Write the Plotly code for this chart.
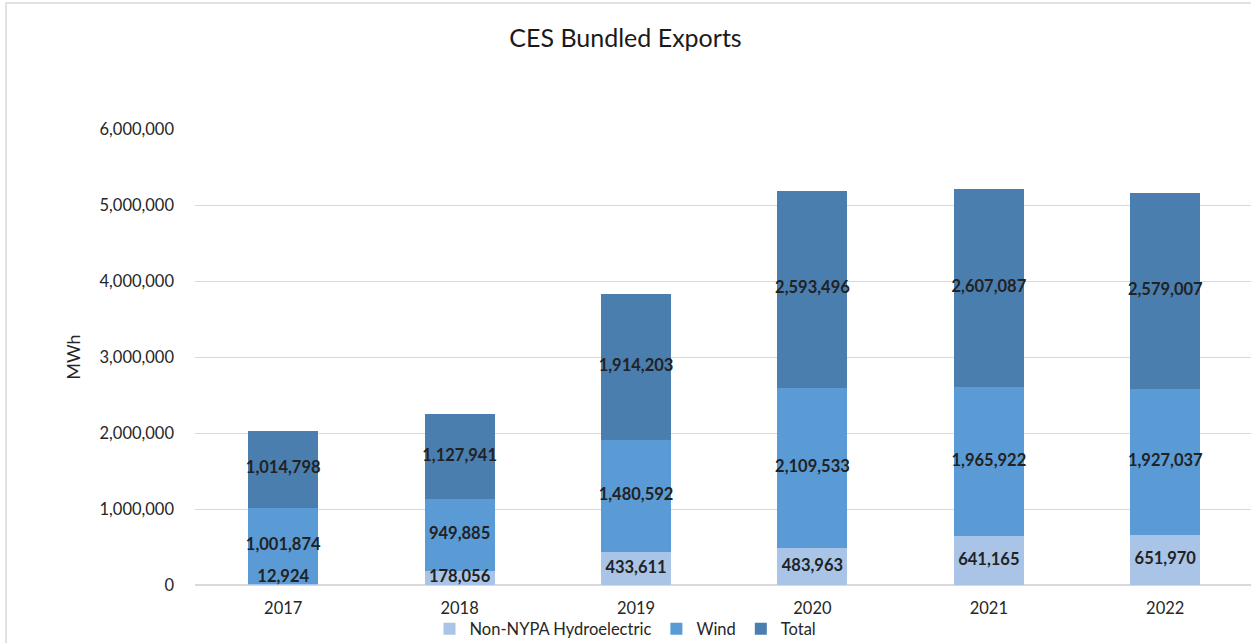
import plotly.graph_objects as go

years = ["2017", "2018", "2019", "2020", "2021", "2022"]
hydro = [12924, 178056, 433611, 483963, 641165, 651970]
wind = [1001874, 949885, 1480592, 2109533, 1965922, 1927037]
total = [1014798, 1127941, 1914203, 2593496, 2607087, 2579007]

series = [
    ("Non-NYPA Hydroelectric", hydro, "#a9c4e6"),
    ("Wind", wind, "#5b9bd5"),
    ("Total", total, "#4a7eaf"),
]

FONT = "Lato, 'Open Sans', sans-serif"

fig = go.Figure()
base = [0] * len(years)
label_x, label_y, label_t = [], [], []
for name, vals, color in series:
    fig.add_trace(go.Bar(
        x=years, y=vals, name=name, marker=dict(color=color, line=dict(width=0)),
        hoverinfo="skip",
    ))
    for i, v in enumerate(vals):
        label_x.append(years[i])
        # keep the label inside the plot area (as the original does for tiny segments)
        label_y.append(max(base[i] + v / 2, 90000))
        label_t.append(f"{v:,}")
        base[i] += v

fig.add_trace(go.Scatter(
    x=label_x, y=label_y, text=label_t, mode="text",
    textposition="middle center",
    textfont=dict(family=FONT, size=16.5, color="#222222", weight="bold"),
    showlegend=False, hoverinfo="skip", cliponaxis=False,
))

fig.update_layout(
    width=1251, height=643,
    barmode="stack", bargap=0.603,
    paper_bgcolor="white", plot_bgcolor="white",
    margin=dict(l=195, r=0, t=129, b=58),
    font=dict(family=FONT, size=16, color="#262626"),
    title=dict(text="CES Bundled Exports", x=0.5, xref="container", xanchor="center",
               y=1 - 38 / 643, yref="container", yanchor="middle",
               font=dict(size=25, color="#1a1a1a", family=FONT)),
    legend=dict(orientation="h", x=0.5, xref="container", xanchor="center",
                y=1 - 629 / 643, yref="container", yanchor="middle",
                bgcolor="rgba(0,0,0,0)",
                font=dict(size=16.5, color="#262626"), traceorder="normal",
                itemwidth=30, tracegroupgap=0),
    xaxis=dict(range=[-0.5, 5.486], showgrid=False, showline=False, zeroline=False,
               automargin=False,
               ticks="", ticklabelstandoff=11, tickfont=dict(size=16.5, color="#262626")),
    yaxis=dict(range=[0, 6000000], dtick=1000000, tickformat=",d",
               automargin=False,
               showgrid=True, gridcolor="#d9d9d9", gridwidth=1,
               zeroline=True, zerolinecolor="#d9d9d9", zerolinewidth=1.5,
               showline=False, ticks="", ticklabelstandoff=20,
               tickfont=dict(size=16.5, color="#262626"),
               title=dict(text="MWh", font=dict(size=18, color="#262626"), standoff=14)),
    shapes=[dict(type="rect", xref="paper", yref="paper",
                 x0=(6 - 195) / 1056, x1=1.05, y0=-0.2, y1=(585 - 3) / 456,
                 line=dict(color="#d9d9d9", width=1.5), fillcolor="rgba(0,0,0,0)", layer="below")],
)

fig.write_html("out.html")
